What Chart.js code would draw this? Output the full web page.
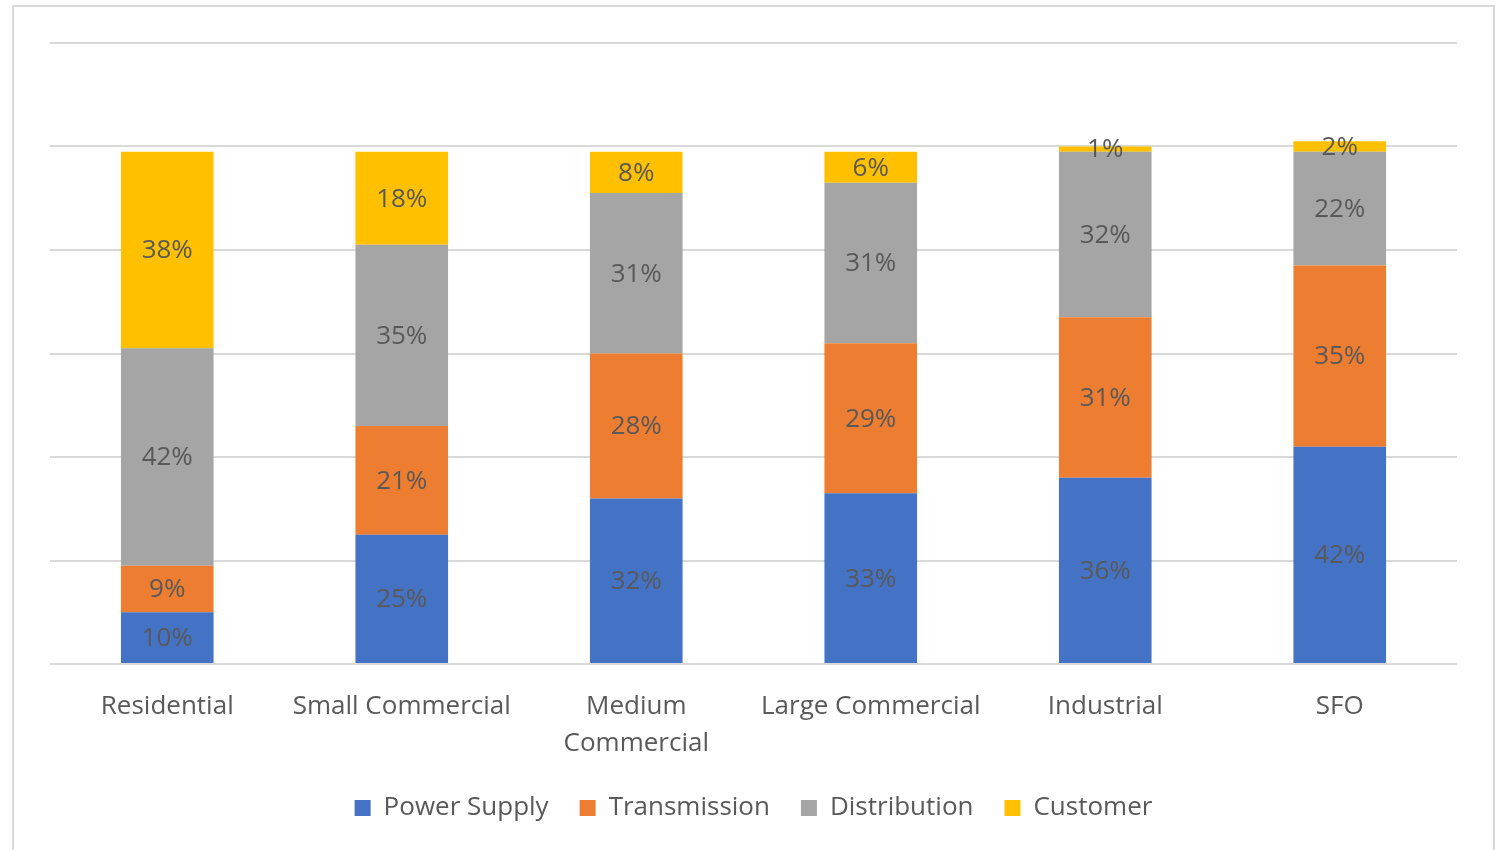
<!DOCTYPE html>
<html>
<head>
<meta charset="utf-8">
<script src="https://cdn.jsdelivr.net/npm/chart.js@4.4.1/dist/chart.umd.min.js"></script>
<style>
  html, body { margin: 0; padding: 0; background: #fff; overflow: hidden; }
  #wrap { position: relative; width: 1501px; height: 850px; }
  #frame {
    position: absolute; left: 12px; top: 5px; width: 1483px; height: 900px;
    border: 2px solid #d9d9d9; box-sizing: border-box;
  }
  canvas { position: absolute; left: 0; top: 0; }
</style>
</head>
<body>
<div id="wrap">
  <div id="frame"></div>
  <canvas id="myChart" width="1501" height="850"></canvas>
</div>
<script>
var categories = ['Residential', 'Small Commercial', ['Medium', 'Commercial'], 'Large Commercial', 'Industrial', 'SFO'];
var powerSupply  = [10, 25, 32, 33, 36, 42];
var transmission = [9, 21, 28, 29, 31, 35];
var distribution = [42, 35, 31, 31, 32, 22];
var customer     = [38, 18, 8, 6, 1, 2];

var textColor = '#595959';
var fontFamily = "'Open Sans', 'Noto Sans', sans-serif";

// writes each segment's percentage in the middle of the segment
var segmentLabels = {
    id: 'segmentLabels',
    afterDatasetsDraw: function (chart) {
        var ctx = chart.ctx;
        ctx.save();
        ctx.font = '26px ' + fontFamily;
        ctx.fillStyle = textColor;
        ctx.textAlign = 'center';
        ctx.textBaseline = 'middle';
        chart.data.datasets.forEach(function (ds, i) {
            var meta = chart.getDatasetMeta(i);
            meta.data.forEach(function (bar, j) {
                var y = (bar.y + bar.base) / 2;
                ctx.fillText(ds.data[j] + '%', bar.x, y + 1);
            });
        });
        ctx.restore();
    }
};

function viewChart() {
    var ctx = document.getElementById('myChart').getContext('2d');

    var chart = new Chart(ctx, {
        type: 'bar',
        data: {
            labels: categories,
            datasets: [
                { label: 'Power Supply', data: powerSupply, backgroundColor: '#4472C4' },
                { label: 'Transmission', data: transmission, backgroundColor: '#ED7D31' },
                { label: 'Distribution', data: distribution, backgroundColor: '#A5A5A5' },
                { label: 'Customer', data: customer, backgroundColor: '#FFC000' }
            ]
        },
        options: {
            responsive: false,
            animation: false,
            layout: { padding: { top: 43, left: 50, right: 44, bottom: 19 } },
            datasets: { bar: { barPercentage: 1, categoryPercentage: 0.395 } },
            scales: {
                x: {
                    stacked: true,
                    grid: { display: false },
                    border: { display: false },
                    ticks: {
                        color: textColor,
                        padding: 16,
                        maxRotation: 0,
                        autoSkip: false,
                        font: { family: fontFamily, size: 26, lineHeight: 1.42 }
                    },
                    afterFit: function (scale) { scale.height = 100; }
                },
                y: {
                    stacked: true,
                    min: 0,
                    max: 120,
                    ticks: { display: false, stepSize: 20 },
                    grid: { color: '#d9d9d9', lineWidth: 2, drawTicks: false },
                    border: { display: false },
                    afterFit: function (scale) { scale.width = 0; }
                }
            },
            plugins: {
                tooltip: { enabled: false },
                legend: {
                    position: 'bottom',
                    labels: {
                        color: textColor,
                        boxWidth: 16,
                        boxHeight: 16,
                        padding: 31,
                        font: { family: fontFamily, size: 26 }
                    }
                }
            }
        },
        plugins: [segmentLabels]
    });
}
viewChart();
</script>
</body>
</html>
